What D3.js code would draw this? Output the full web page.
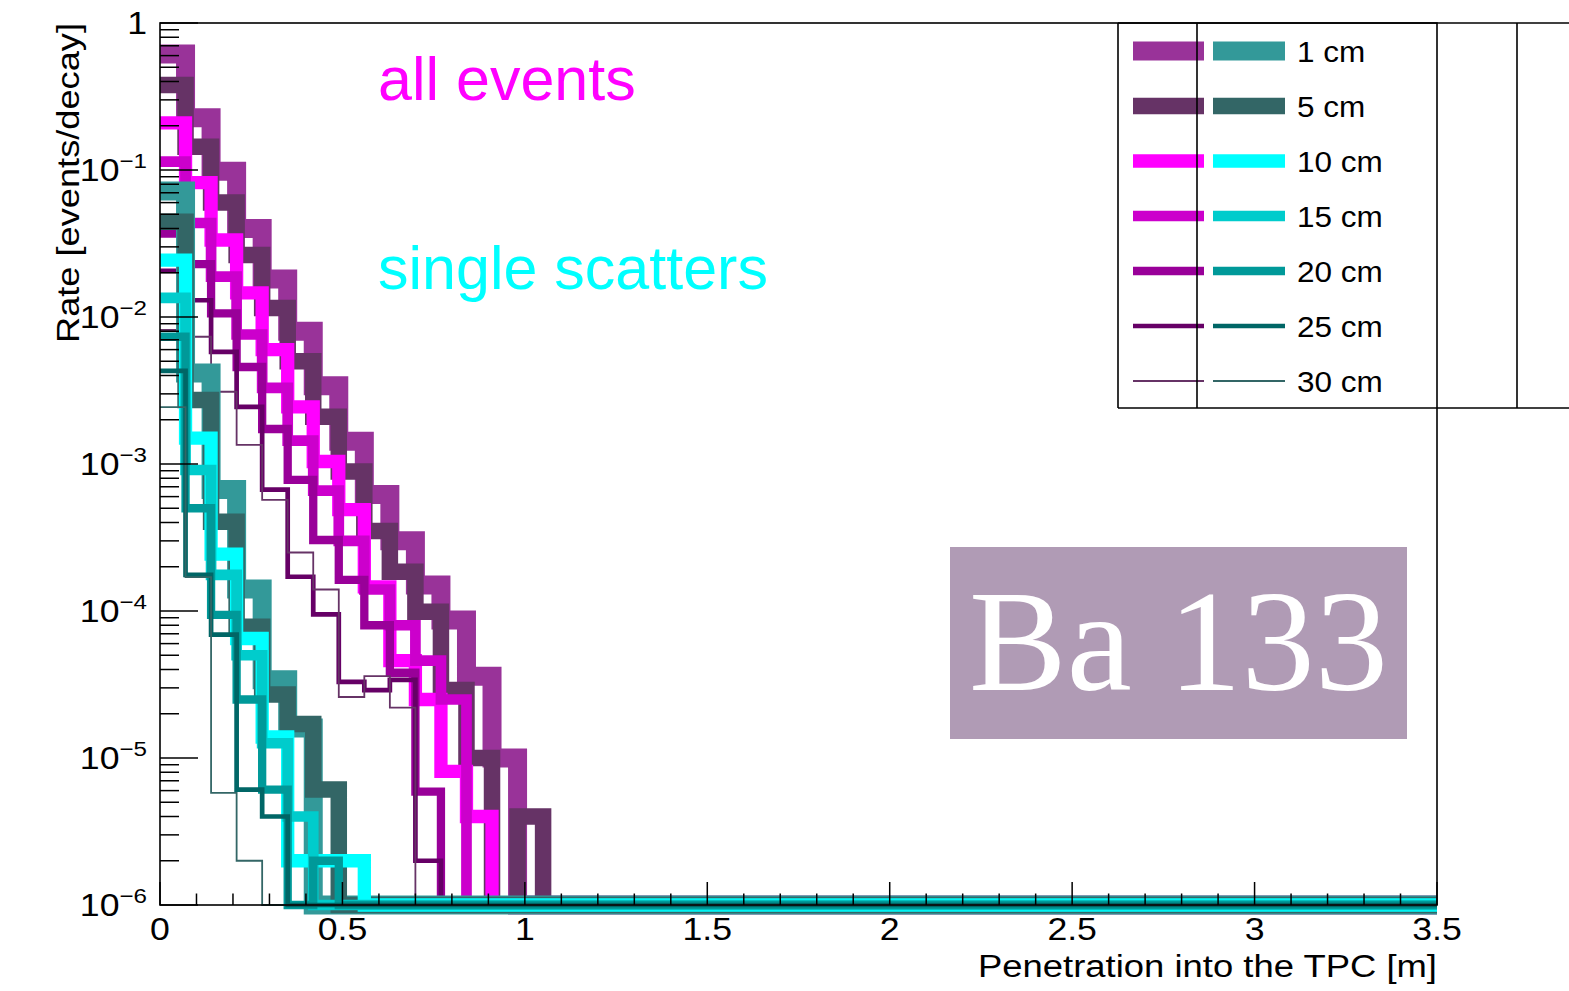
<!DOCTYPE html>
<html>
<head>
<meta charset="utf-8">
<script src="https://cdn.jsdelivr.net/npm/d3@7"></script>
<style>
  html, body { margin: 0; padding: 0; background: #ffffff; }
  svg { display: block; }
</style>
</head>
<body>
<svg id="chart" width="1569" height="991" font-family="'Liberation Sans', Arial, Helvetica, sans-serif"></svg>
<script>
// Penetration histograms: 50 bins of 0.07 m from 0 to 3.5 m.
// Rates in events/decay; bins after the listed ones are empty.
const binWidth = 0.07;
const binCount = 50;

const thicknessLabels = ["1 cm", "5 cm", "10 cm", "15 cm", "20 cm", "25 cm", "30 cm"];

// all events
const allEvents1cm  = [0.615, 0.227, 0.098, 0.040, 0.0181, 0.0080, 0.0034, 0.00143, 6.2e-4, 3.0e-4, 1.5e-4, 8.7e-5, 3.6e-5, 1.0e-5];
const allEvents5cm  = [0.379, 0.144, 0.060, 0.0264, 0.0115, 0.0050, 0.0021, 8.9e-4, 3.5e-4, 1.85e-4, 9.9e-5, 2.9e-5, 1.0e-5, 0, 4.0e-6];
const allEvents10cm = [0.209, 0.082, 0.0334, 0.0146, 0.0060, 0.00245, 0.00104, 4.9e-4, 1.46e-4, 4.6e-5, 2.5e-5, 8.1e-6, 4.0e-6];
const allEvents15cm = [0.114, 0.0436, 0.0188, 0.0076, 0.0033, 0.00144, 6.6e-4, 3.0e-4, 1.4e-4, 8.0e-5, 4.6e-5, 2.5e-5];
const allEvents20cm = [0.0369, 0.0229, 0.0106, 0.00457, 0.00173, 7.8e-4, 3.04e-4, 1.63e-4, 8.0e-5, 3.8e-5, 5.9e-6];
const allEvents25cm = [0.0206, 0.0130, 0.0058, 0.00245, 6.7e-4, 1.71e-4, 9.5e-5, 3.3e-5, 2.9e-5, 3.4e-5, 2.0e-6];
const allEvents30cm = [0.00816, 0.00734, 0.0031, 0.00135, 5.7e-4, 2.5e-4, 1.4e-4, 2.6e-5, 3.6e-5, 2.2e-5];

// single scatters
const single1cm  = [0.072, 0.00416, 6.7e-4, 1.41e-4, 3.4e-5, 1.6e-5];
const single5cm  = [0.0445, 0.00272, 4.05e-4, 7.8e-5, 2.7e-5, 1.7e-5, 6.1e-6];
const single10cm = [0.0244, 0.0015, 2.44e-4, 6.5e-5, 1.39e-5, 2.0e-6, 2.0e-6, 2.0e-6];
const single15cm = [0.0135, 9.1e-4, 1.76e-4, 5.0e-5, 1.26e-5, 4.0e-6];
const single20cm = [0.00734, 5.0e-4, 9.4e-5, 2.5e-5, 6.1e-6, 0, 2.0e-6];
const single25cm = [0.0043, 1.76e-4, 6.9e-5, 6.1e-6, 4.0e-6];
const single30cm = [0.00244, 1.7e-4, 5.8e-6, 2.0e-6];

const xTickValues = [0, 0.5, 1, 1.5, 2, 2.5, 3, 3.5];
const xTickLabels = ["0", "0.5", "1", "1.5", "2", "2.5", "3", "3.5"];
const yDecades = [0, -1, -2, -3, -4, -5, -6];

// ---------- drawing ----------
const svg = d3.select("#chart");
const frame = { left: 160, right: 1437, top: 23, bottom: 905 };
const yMin = 1e-6, yMax = 1;
const labelStretch = 1.15;   // axis text is drawn slightly wide

const x = d3.scaleLinear().domain([0, 3.5]).range([frame.left, frame.right]);
const y = d3.scaleLog().domain([yMin, yMax]).range([frame.bottom, frame.top]);

const purpleColors = ["#993399", "#663366", "#ff00ff", "#cc00cc", "#990099", "#660066", "#663366"];
const tealColors   = ["#339999", "#336666", "#00ffff", "#00cccc", "#009999", "#006666", "#336666"];
const lineWidths   = [19, 16.5, 13.3, 10.7, 8.3, 4.7, 1.8];

const allEvents = [allEvents1cm, allEvents5cm, allEvents10cm, allEvents15cm, allEvents20cm, allEvents25cm, allEvents30cm];
const singles   = [single1cm, single5cm, single10cm, single15cm, single20cm, single25cm, single30cm];

function fullBins(vals) {
  const out = [];
  for (let i = 0; i < binCount; i++) out.push(i < vals.length ? vals[i] : 0);
  return out;
}

// empty bins sit on the lower edge of the log axis
const stepLine = d3.line()
  .x(d => x(d.edge))
  .y(d => y(Math.max(d.value, yMin)))
  .curve(d3.curveStepAfter);

function histPoints(vals) {
  const bins = fullBins(vals);
  const pts = bins.map((v, i) => ({ edge: i * binWidth, value: v }));
  pts.push({ edge: binCount * binWidth, value: bins[binCount - 1] });
  return pts;
}

const histLayer = svg.append("g");
const series = [];
allEvents.forEach((vals, i) => series.push({ vals, color: purpleColors[i], width: lineWidths[i] }));
singles.forEach((vals, i) => series.push({ vals, color: tealColors[i], width: lineWidths[i] }));

histLayer.selectAll("path")
  .data(series)
  .join("path")
  .attr("d", d => stepLine(histPoints(d.vals)))
  .attr("fill", "none")
  .attr("stroke", d => d.color)
  .attr("stroke-width", d => d.width)
  .attr("stroke-linejoin", "miter")
  .attr("stroke-linecap", "butt");

// ---------- axes ----------
const axisLayer = svg.append("g").attr("stroke", "#000");

// y ticks (log, major per decade, minor at 2..9)
yDecades.forEach(p => {
  const v = Math.pow(10, p);
  axisLayer.append("line")
    .attr("x1", frame.left).attr("x2", frame.left + 38)
    .attr("y1", y(v)).attr("y2", y(v)).attr("stroke-width", 1.5);
  if (p < 0) {
    for (let m = 2; m <= 9; m++) {
      const mv = m * v;
      axisLayer.append("line")
        .attr("x1", frame.left).attr("x2", frame.left + 19)
        .attr("y1", y(mv)).attr("y2", y(mv)).attr("stroke-width", 1.5);
    }
  }
});

// x ticks
for (let k = 0; k <= 35; k++) {
  const v = k / 10;
  const major = k % 5 === 0;
  axisLayer.append("line")
    .attr("x1", x(v)).attr("x2", x(v))
    .attr("y1", frame.bottom).attr("y2", frame.bottom - (major ? 23 : 11.5))
    .attr("stroke-width", 1.5);
}

// frame
axisLayer.append("rect")
  .attr("x", frame.left).attr("y", frame.top)
  .attr("width", frame.right - frame.left).attr("height", frame.bottom - frame.top)
  .attr("fill", "none").attr("stroke-width", 1.6);

// x tick labels
svg.append("g").selectAll("text")
  .data(xTickValues)
  .join("text")
  .attr("transform", d => `translate(${x(d)},940) scale(${labelStretch},1)`)
  .attr("text-anchor", "middle")
  .attr("font-size", 31)
  .attr("fill", "#000")
  .text((d, i) => xTickLabels[i]);

// y tick labels
const yLab = svg.append("g");
yDecades.forEach(p => {
  const t = yLab.append("text")
    .attr("transform", `translate(147,${y(Math.pow(10, p)) + 11}) scale(${labelStretch},1)`)
    .attr("text-anchor", "end")
    .attr("font-size", 31)
    .attr("fill", "#000");
  if (p === 0) {
    t.text("1");
  } else {
    t.append("tspan").text("10");
    t.append("tspan").attr("font-size", 21).attr("dy", -13).text("\u2212" + Math.abs(p));
  }
});

// axis titles
svg.append("text")
  .attr("x", frame.right).attr("y", 977)
  .attr("text-anchor", "end")
  .attr("font-size", 31)
  .attr("textLength", 459).attr("lengthAdjust", "spacingAndGlyphs")
  .text("Penetration into the TPC [m]");

svg.append("text")
  .attr("transform", `translate(79,${frame.top}) rotate(-90)`)
  .attr("text-anchor", "end")
  .attr("font-size", 32)
  .attr("textLength", 320).attr("lengthAdjust", "spacingAndGlyphs")
  .text("Rate [events/decay]");

// annotations
svg.append("text")
  .attr("x", 378).attr("y", 100)
  .attr("font-size", 61).attr("fill", "#ff00ff")
  .text("all events");
svg.append("text")
  .attr("x", 378).attr("y", 289)
  .attr("font-size", 61).attr("fill", "#00ffff")
  .text("single scatters");

// isotope label
svg.append("rect")
  .attr("x", 950).attr("y", 547).attr("width", 457).attr("height", 192)
  .attr("fill", "#b09bb5");
svg.append("text")
  .attr("x", 969).attr("y", 690)
  .attr("font-family", "'Liberation Serif', 'DejaVu Serif', serif")
  .attr("font-size", 143).attr("fill", "#ffffff")
  .attr("textLength", 419).attr("lengthAdjust", "spacingAndGlyphs")
  .text("Ba 133");

// ---------- legend ----------
const legend = svg.append("g");
const legTop = 23, legBottom = 408, legLeft = 1118;
thicknessLabels.forEach((lab, i) => {
  const cy = 51 + i * 55;
  legend.append("line")
    .attr("x1", 1133).attr("x2", 1204).attr("y1", cy).attr("y2", cy)
    .attr("stroke", purpleColors[i]).attr("stroke-width", lineWidths[i]);
  legend.append("line")
    .attr("x1", 1213).attr("x2", 1285).attr("y1", cy).attr("y2", cy)
    .attr("stroke", tealColors[i]).attr("stroke-width", lineWidths[i]);
  legend.append("text")
    .attr("transform", `translate(1297,${cy + 11}) scale(1.05,1)`)
    .attr("font-size", 30).attr("fill", "#000")
    .text(lab);
});
const legLines = legend.append("g").attr("stroke", "#000").attr("stroke-width", 1.6);
legLines.append("line").attr("x1", legLeft).attr("x2", 1569).attr("y1", legTop).attr("y2", legTop);
legLines.append("line").attr("x1", legLeft).attr("x2", 1569).attr("y1", legBottom).attr("y2", legBottom);
[legLeft, 1197, 1517].forEach(lx => {
  legLines.append("line").attr("x1", lx).attr("x2", lx).attr("y1", legTop).attr("y2", legBottom);
});
</script>
</body>
</html>
